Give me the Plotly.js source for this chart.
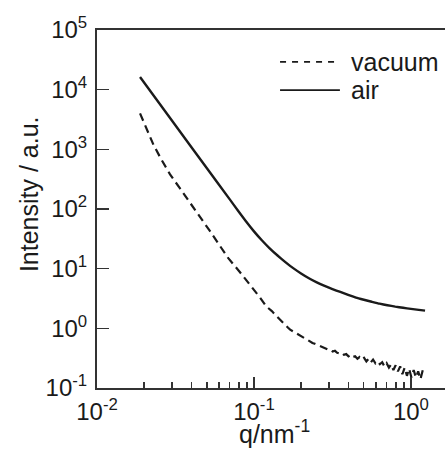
<!DOCTYPE html>
<html>
<head>
<meta charset="utf-8">
<script src="https://cdn.plot.ly/plotly-3.0.1.min.js"></script>
<style>html,body{margin:0;padding:0;background:#fff;overflow:hidden}#chart{width:445px;height:449px}</style>
</head>
<body>
<div id="chart"></div>
<script>
// ---- data ----
const seriesNames = ["vacuum", "air"];

const qAir = [0.0188, 0.0300, 0.0500, 0.0705, 0.0794, 0.0891, 0.1000, 0.1122, 0.1259, 0.1413, 0.1585, 0.1778, 0.1995, 0.2239, 0.2512, 0.2818, 0.3162,
  0.3548, 0.3981, 0.4467, 0.5012, 0.5623, 0.6310, 0.7079, 0.7943, 0.8913, 1.0000, 1.1220, 1.2300];
const iAir = [16300, 3040, 485, 142, 92.3, 61.7, 42.2, 29.9, 21.9, 16.6, 12.9, 10.2, 8.32, 6.92, 5.89, 5.13, 4.54,
  4.07, 3.63, 3.27, 3.01, 2.79, 2.59, 2.44, 2.31, 2.21, 2.12, 2.04, 1.98];

const qVac = [0.0188, 0.0205, 0.0229, 0.0258, 0.0292, 0.0338, 0.0382, 0.0453, 0.0525, 0.0607, 0.0686, 0.0815, 0.0944, 0.109, 0.120, 0.130, 0.140,
  0.150, 0.155, 0.160, 0.165, 0.170, 0.176, 0.182, 0.188, 0.194, 0.200, 0.207, 0.214, 0.221, 0.228, 0.236, 0.244, 0.252, 0.260, 0.269, 0.278,
  0.287, 0.297, 0.307, 0.317, 0.328, 0.339, 0.350, 0.362, 0.374, 0.387, 0.400, 0.413, 0.427, 0.441, 0.456, 0.471, 0.487, 0.503, 0.520, 0.538,
  0.556, 0.574, 0.594, 0.614, 0.634, 0.656, 0.678, 0.700, 0.724, 0.748, 0.773, 0.799, 0.826, 0.854, 0.882, 0.912, 0.943, 0.974, 1.007, 1.041,
  1.076, 1.112, 1.150, 1.190, 1.230];
const iVac = [4000, 2310, 1190, 664, 380, 221, 141, 75, 42.4, 24.1, 15.0, 8.7, 5.43, 3.31, 2.32, 1.95, 1.58,
  1.30, 1.18, 1.10, 1.02, 0.95, 0.90, 0.84, 0.79, 0.75, 0.72, 0.68, 0.65, 0.62, 0.60, 0.57, 0.55, 0.53, 0.50, 0.49, 0.47,
  0.46, 0.44, 0.44, 0.41, 0.42, 0.39, 0.38, 0.39, 0.36, 0.37, 0.34, 0.36, 0.33, 0.34, 0.31, 0.33, 0.30, 0.32, 0.28, 0.31,
  0.27, 0.30, 0.26, 0.28, 0.25, 0.27, 0.23, 0.26, 0.22, 0.25, 0.20, 0.24, 0.19, 0.23, 0.17, 0.22, 0.16, 0.21, 0.15, 0.20,
  0.15, 0.19, 0.14, 0.20, 0.17];

const xTickVals = [0.01, 0.1, 1];
const xTickText = ["10<sup>-2</sup>", "10<sup>-1</sup>", "10<sup>0</sup>"];
const xMinorTicks = [0.02, 0.03, 0.04, 0.05, 0.06, 0.07, 0.08, 0.09, 0.2, 0.3, 0.4, 0.5, 0.6, 0.7, 0.8, 0.9];
const yTickVals = [0.1, 1, 10, 100, 1000, 10000, 100000];
const yTickText = ["10<sup>-1</sup>", "10<sup>0</sup>", "10<sup>1</sup>", "10<sup>2</sup>", "10<sup>3</sup>", "10<sup>4</sup>", "10<sup>5</sup>"];

const xTitle = "q/nm<sup>-1</sup>";
const yTitle = "Intensity / a.u.";

// ---- styling ----
const ink = "#1a1a1a";
const axisInk = "#333333";
const FONT = "Liberation Sans, Arial, sans-serif";

const traces = [
  {x: qVac, y: iVac, name: seriesNames[0], mode: "lines", type: "scatter",
   line: {color: ink, width: 2.2, dash: "8px,5px"}, showlegend: false},
  {x: qAir, y: iAir, name: seriesNames[1], mode: "lines", type: "scatter",
   line: {color: ink, width: 2.4, shape: "spline", smoothing: 0.4}, showlegend: false}
];

const layout = {
  width: 445, height: 449,
  margin: {l: 97, r: 0, t: 30, b: 61, pad: 0},
  paper_bgcolor: "#fff", plot_bgcolor: "#fff",
  font: {family: FONT, size: 24, color: ink},
  showlegend: false,
  xaxis: {
    type: "log", range: [-2, 0.217],
    showgrid: false, zeroline: false,
    showline: true, mirror: true, linecolor: axisInk, linewidth: 2,
    ticks: "inside", ticklen: 11, tickwidth: 1.6, tickcolor: axisInk,
    tickvals: xTickVals, ticktext: xTickText,
    ticklabelstandoff: 1,
    minor: {tickvals: xMinorTicks, ticks: "inside", ticklen: 6, tickwidth: 1.6, tickcolor: axisInk, showgrid: false},
    tickfont: {family: FONT, size: 24, color: ink}
  },
  yaxis: {
    type: "log", range: [-1, 5],
    showgrid: false, zeroline: false,
    showline: true, mirror: false, linecolor: axisInk, linewidth: 2,
    ticks: "inside", ticklen: 12, tickwidth: 1.6, tickcolor: axisInk,
    tickvals: yTickVals, ticktext: yTickText,
    ticklabelstandoff: 3,
    tickfont: {family: FONT, size: 24, color: ink}
  },
  shapes: [
    {type: "line", xref: "paper", yref: "paper", x0: 0.526, x1: 0.698, y0: 0.911, y1: 0.911,
     line: {color: ink, width: 1.8, dash: "6px,6px"}},
    {type: "line", xref: "paper", yref: "paper", x0: 0.526, x1: 0.698, y0: 0.832, y1: 0.832,
     line: {color: ink, width: 1.8}}
  ],
  annotations: [
    {text: seriesNames[0], xref: "paper", yref: "paper", x: 0.724, y: 0.911, xanchor: "left", yanchor: "middle",
     showarrow: false, font: {family: FONT, size: 25, color: ink}},
    {text: seriesNames[1], xref: "paper", yref: "paper", x: 0.724, y: 0.832, xanchor: "left", yanchor: "middle",
     showarrow: false, font: {family: FONT, size: 25, color: ink}},
    {text: yTitle, xref: "paper", yref: "paper", x: -0.195, y: 0.542, xanchor: "center", yanchor: "middle",
     textangle: -90, showarrow: false, font: {family: FONT, size: 25, color: ink}},
    {text: xTitle, xref: "paper", yref: "paper", x: 0.511, y: -0.124, xanchor: "center", yanchor: "middle",
     showarrow: false, font: {family: FONT, size: 25, color: ink}}
  ]
};

Plotly.newPlot("chart", traces, layout, {displayModeBar: false, staticPlot: true});
</script>
</body>
</html>
